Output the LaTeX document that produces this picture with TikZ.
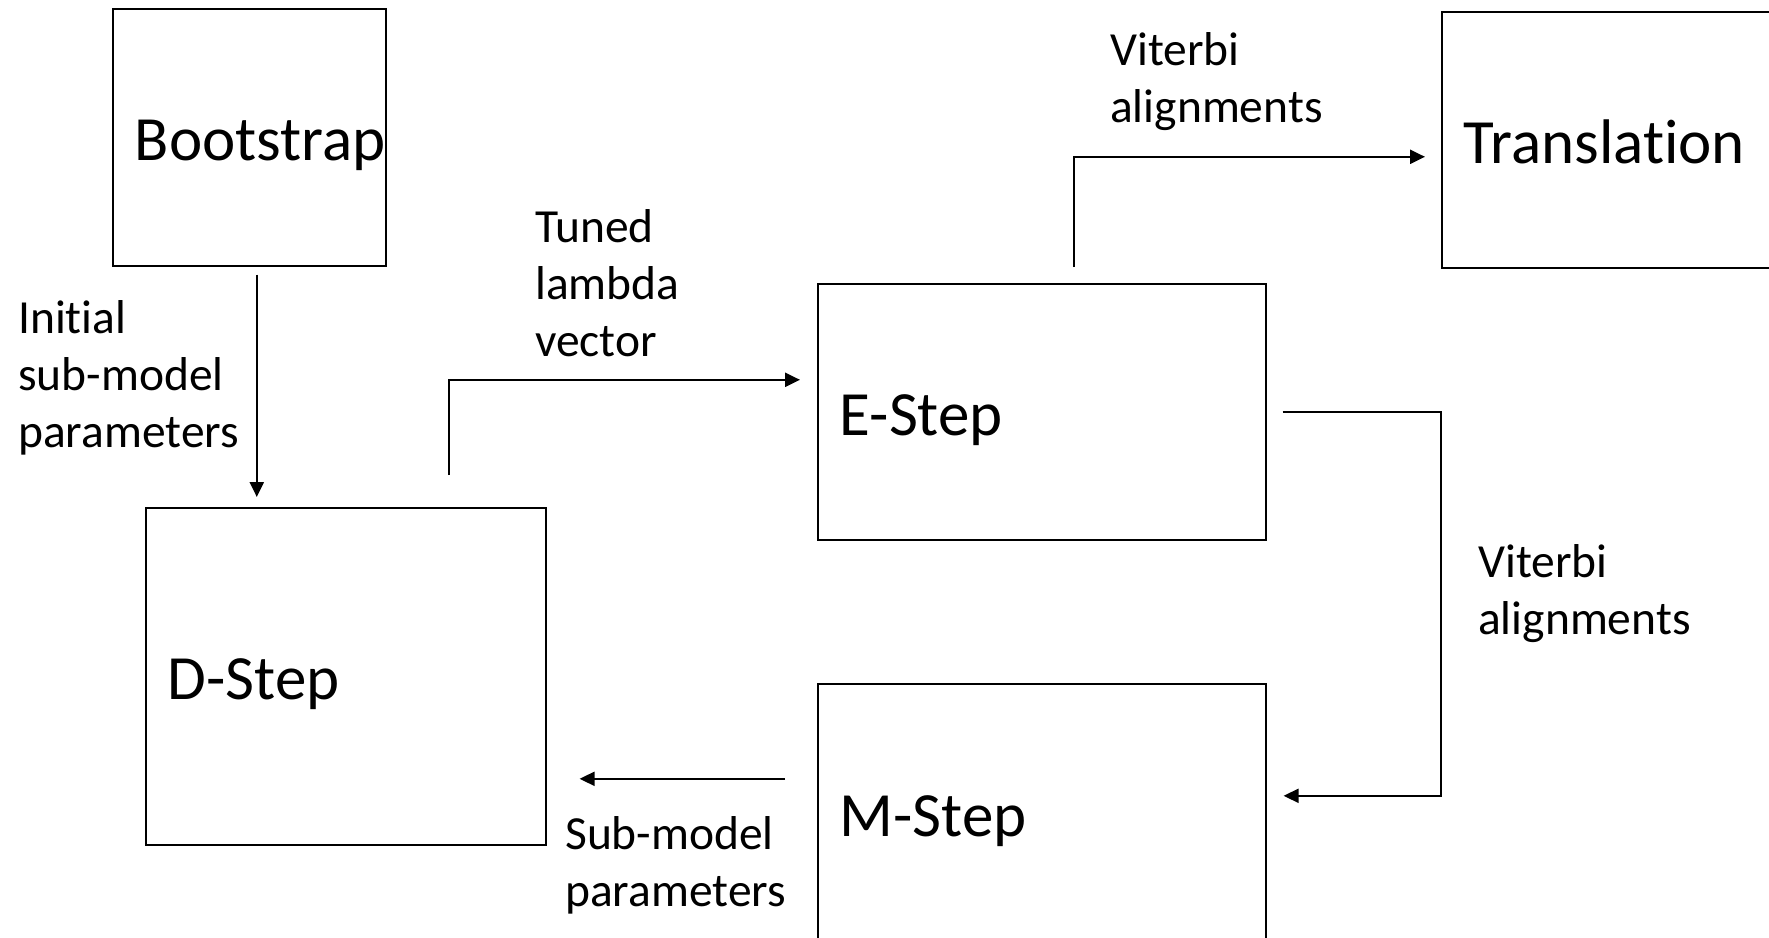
\documentclass[tikz,border=0pt]{standalone}
\usepackage{fontspec}
\setmainfont{Carlito}[Ligatures=CommonOff]
\usetikzlibrary{arrows.meta}

\begin{document}
\begin{tikzpicture}[
    x=1pt, y=-1pt,
    every node/.style={font=\fontsize{47.5}{57}\selectfont},
    stage/.style={
        draw=black, line width=1.6pt, anchor=north west, align=left,
        font=\fontsize{63}{75}\selectfont, inner xsep=22pt, inner ysep=0pt,
        text height=47pt, text depth=0pt
    },
    note/.style={anchor=base west, align=left, inner sep=0pt},
    flow/.style={draw=black, line width=2.2pt, -{Triangle[length=15pt, width=14pt]}}
]
\useasboundingbox (0,0) rectangle (1769,937);

% Stages
\node[stage, minimum height=257pt, text width=229pt] (boot) at (112,8) {Bootstrap};
\node[stage, minimum height=337pt, text width=356pt] (dstep) at (145,507) {D-Step};
\node[stage, minimum height=256pt, text width=404pt] (estep) at (817,283) {E-Step};
\node[stage, minimum height=258pt, text width=404pt] (mstep) at (817,683) {M-Step};
\node[stage, minimum height=256pt, text width=404pt] (trans) at (1441,11) {Translation};

% Labels (placed at the baseline of their last line)
\node[note] (initlbl) at (18,447) {Initial\\sub-model\\parameters};
\node[note] (lambdalbl) at (535,356) {Tuned\\lambda\\vector};
\node[note] (vitlbl1) at (1110,122) {Viterbi\\alignments};
\node[note] (vitlbl2) at (1478,634) {Viterbi\\alignments};
\node[note] (sublbl) at (565,906) {Sub-model\\parameters};

% Edges
\coordinate (bootout) at ([xshift=7.5pt]boot.south);
\coordinate (mout) at ([yshift=34pt]mstep.west);
\draw[flow, shorten <=8pt, shorten >=10pt] (bootout) -- (bootout |- dstep.north);
\draw[flow, shorten <=32pt, shorten >=17pt]
    ([xshift=103pt]dstep.north) |- ([yshift=32pt]estep.west);
\draw[flow, shorten <=16pt, shorten >=16pt]
    ([xshift=32pt]estep.north) |- ([yshift=-17pt]trans.west);
\draw[flow, shorten <=16pt, shorten >=17pt]
    (estep.east) -- (estep.east -| trans.west) |- ([yshift=17pt]mstep.east);
\draw[flow, shorten <=32pt, shorten >=33pt] (mout) -- (mout -| dstep.east);

\end{tikzpicture}
\end{document}
